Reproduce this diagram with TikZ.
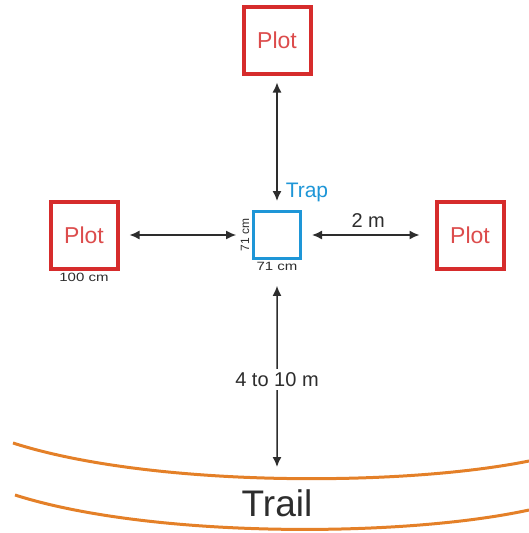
\documentclass[tikz,border=0pt]{standalone}
\usepackage{fontspec}
\setmainfont{Liberation Sans}
\usetikzlibrary{arrows.meta, positioning}
\definecolor{plotred}{RGB}{214,44,44}
\definecolor{trapblue}{RGB}{30,150,215}
\definecolor{trailorange}{RGB}{228,128,40}
\definecolor{inkgrey}{RGB}{45,45,45}
\tikzstyle{plotbox} = [draw=plotred, line width=4pt, rectangle, minimum size=67pt, inner sep=0pt, text=plotred!85, font=\fontsize{23}{23}\selectfont]
\tikzstyle{trapbox} = [draw=trapblue, line width=3pt, rectangle, minimum size=47pt, inner sep=0pt]
\tikzstyle{smalltext} = [text=inkgrey, inner sep=1pt, font=\fontsize{12}{12}\selectfont]
\tikzstyle{measure} = [text=inkgrey, font=\fontsize{20}{20}\selectfont]
\tikzstyle{trailline} = [draw=trailorange, line width=3pt]

\begin{document}
\begin{tikzpicture}[x=1pt, y=-1pt, >={Latex[length=10pt,width=9pt]}, line width=1.5pt]
    \useasboundingbox (0,0) rectangle (529,533);
    \node [trapbox] (trap) at (277,235) {};
    \node [plotbox] (plottop) at (277,40) {Plot};
    \node [plotbox] (plotleft) at (84,235) {Plot};
    \node [plotbox] (plotright) at (470,235) {Plot};
    \node [anchor=south west, inner sep=0pt, text=trapblue, font=\fontsize{21}{21}\selectfont] (traplabel) at (285,203) {Trap};
    \node [smalltext, rotate=90, anchor=south] (sidev) at ([xshift=-1pt]trap.west) {71 cm};
    \node [smalltext, xscale=1.25, below=0pt of trap] (sideh) {71 cm};
    \node [smalltext, xscale=1.25, below=1pt of plotleft] (plotside) {100 cm};
    \coordinate (trailtop) at (277,467);
    \draw [<->, shorten <=7pt, shorten >=9pt, inkgrey] (plottop) -- (trap);
    \draw [<->, shorten <=10pt, shorten >=3pt, inkgrey] (plotleft) -- (sidev);
    \draw [<->, shorten <=10pt, shorten >=15pt, inkgrey] (trap) -- node [measure, above=3pt] {2 m} (plotright);
    \draw [<->, shorten <=14pt, inkgrey] (sideh) -- node [measure, fill=white, pos=0.55] {4 to 10 m} (trailtop);
    % trail edges
    \draw [trailline] (13,443) .. controls (150,487) and (400,487) .. (529,461);
    \draw [trailline] (15,495) .. controls (150,538) and (400,538) .. (529,510);
    \node [text=inkgrey, font=\fontsize{37}{37}\selectfont] (trail) at (277,503) {Trail};
\end{tikzpicture}
\end{document}
